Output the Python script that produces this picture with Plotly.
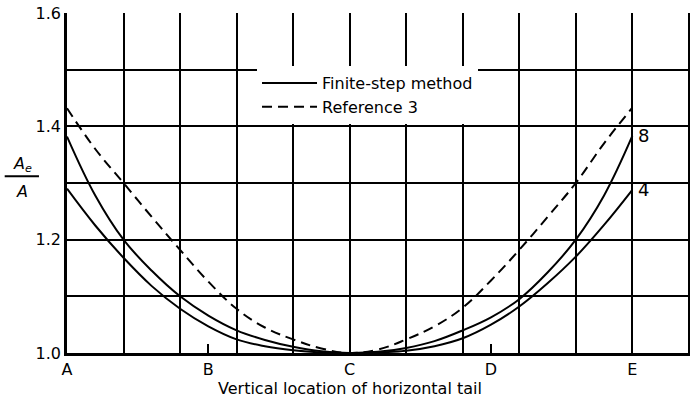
import plotly.graph_objects as go

# ---- data ----
x_pos = [0, 0.5, 1, 1.5, 2, 2.5, 3, 3.5, 4, 4.5, 5, 5.5, 6, 6.5, 7, 7.5, 8, 8.5, 9, 9.5, 10]
finite_step_8 = [1.382, 1.278, 1.2, 1.145, 1.1, 1.066, 1.040, 1.023, 1.011, 1.003, 1.0,
                 1.002, 1.009, 1.021, 1.040, 1.063, 1.095, 1.142, 1.2, 1.278, 1.383]
finite_step_4 = [1.29, 1.225, 1.168, 1.118, 1.078, 1.047, 1.024, 1.012, 1.005, 1.001, 1.0,
                 1.001, 1.004, 1.012, 1.026, 1.05, 1.082, 1.123, 1.17, 1.226, 1.288]
reference_3 = [1.432, 1.36, 1.3, 1.24, 1.182, 1.126, 1.078, 1.045, 1.024, 1.008, 1.0,
               1.006, 1.024, 1.047, 1.08, 1.128, 1.182, 1.24, 1.3, 1.37, 1.433]

x_tick_vals = [0, 2.5, 5, 7.5, 10]
x_tick_text = ["A", "B", "C", "D", "E"]
y_tick_vals = [1.0, 1.2, 1.4, 1.6]
y_tick_text = ["1.0", "1.2", "1.4", "1.6"]
curve_labels = ["8", "4"]

FONT = "DejaVu Sans"
INK = "black"

fig = go.Figure()
fig.add_trace(go.Scatter(x=x_pos, y=finite_step_8, mode="lines", name="Finite-step method",
                         line=dict(color=INK, width=2, shape="spline", smoothing=1.1)))
fig.add_trace(go.Scatter(x=x_pos, y=finite_step_4, mode="lines", name="Finite-step method (4)",
                         showlegend=False, line=dict(color=INK, width=2, shape="spline", smoothing=1.1)))
fig.add_trace(go.Scatter(x=x_pos, y=reference_3, mode="lines", name="Reference 3",
                         line=dict(color=INK, width=2, shape="spline", smoothing=1.1, dash="10px,6px")))

fig.update_xaxes(range=[0, 11.02], tickvals=x_tick_vals, ticktext=x_tick_text,
                 showgrid=False, zeroline=False, showline=True, linecolor=INK, linewidth=2.5,
                 ticks="inside", ticklen=9, tickwidth=2, tickcolor=INK,
                 tickfont=dict(family=FONT, size=16, color=INK),
                 minor=dict(tick0=0, dtick=1, showgrid=True, gridcolor=INK, gridwidth=2, ticks=""))
fig.update_yaxes(range=[1.0, 1.6], tickvals=y_tick_vals, ticktext=y_tick_text,
                 showgrid=True, gridcolor=INK, gridwidth=2, zeroline=False,
                 showline=True, linecolor=INK, linewidth=2.5, ticks="",
                 tickfont=dict(family=FONT, size=16, color=INK),
                 minor=dict(tick0=1.0, dtick=0.1, showgrid=True, gridcolor=INK, gridwidth=2, ticks=""))

annotations = [
    dict(x=5, y=-0.103, xref="x", yref="paper", text="Vertical location of horizontal tail",
         showarrow=False, font=dict(family=FONT, size=16, color=INK), xanchor="center", yanchor="middle"),
    dict(x=-0.072, y=0.555, xref="paper", yref="paper", text="<i>A<sub>e</sub></i>",
         showarrow=False, font=dict(family=FONT, size=16, color=INK), xanchor="center", yanchor="middle"),
    dict(x=-0.072, y=0.475, xref="paper", yref="paper", text="<i>A</i>",
         showarrow=False, font=dict(family=FONT, size=16, color=INK), xanchor="center", yanchor="middle"),
    dict(x=10.07, y=finite_step_8[-1], xref="x", yref="y", text=curve_labels[0],
         showarrow=False, font=dict(family=FONT, size=18, color=INK), xanchor="left", yanchor="middle"),
    dict(x=10.07, y=finite_step_4[-1], xref="x", yref="y", text=curve_labels[1],
         showarrow=False, font=dict(family=FONT, size=18, color=INK), xanchor="left", yanchor="middle"),
]

fig.update_layout(
    width=690, height=401,
    margin=dict(l=67, r=0, t=13, b=48),
    paper_bgcolor="white", plot_bgcolor="white",
    showlegend=True,
    legend=dict(x=0.305, y=0.844, xanchor="left", yanchor="top", bgcolor="white",
                borderwidth=0, itemwidth=55, tracegroupgap=0,
                font=dict(family=FONT, size=16, color=INK)),
    annotations=annotations,
    shapes=[dict(type="line", xref="paper", yref="paper", x0=-0.1, x1=-0.045, y0=0.52, y1=0.52,
                 line=dict(color=INK, width=2))],
)

fig.write_html("out.html", config={"displayModeBar": False},
               post_script="document.body.style.margin='0';")
